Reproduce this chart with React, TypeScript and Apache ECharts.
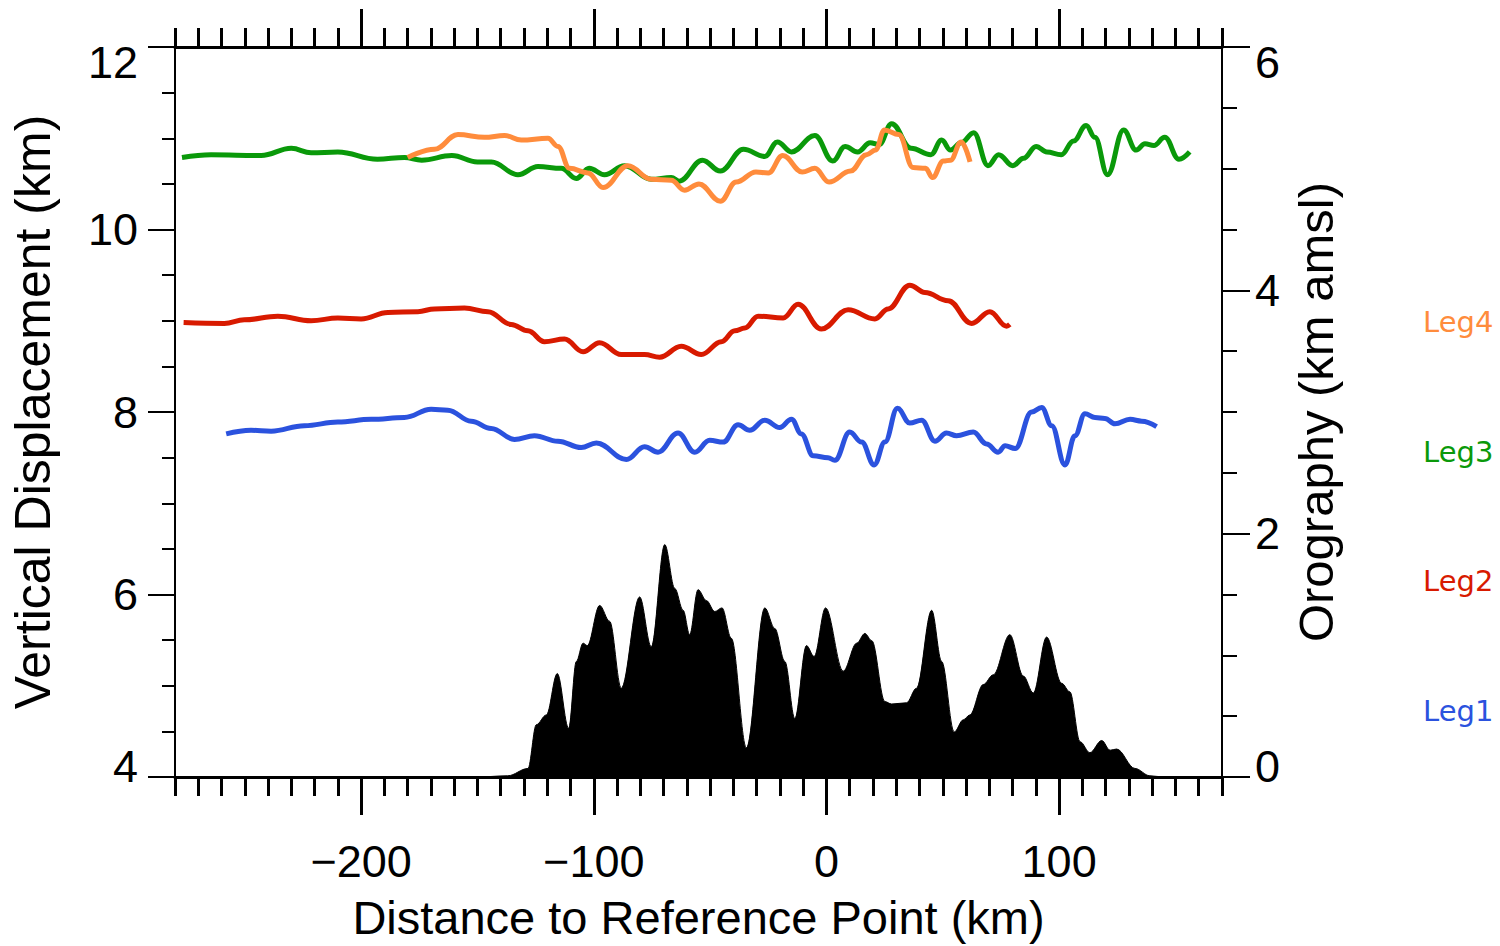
import React, { useEffect, useRef } from "react";
import * as echarts from "echarts";

const FONT = "'Liberation Sans', Arial, sans-serif";
const LEG_FONT = "'DejaVu Sans', sans-serif";

// Distance (km) vs vertical displacement (km)
const leg1: [number, number][] = [
  [-258, 7.76], [-247.3, 7.8], [-238.7, 7.79], [-224.4, 7.85], [-210, 7.89], [-195.7, 7.92],
  [-181.4, 7.94], [-169.9, 8.03], [-162.7, 8.02], [-152.7, 7.9], [-144.1, 7.82], [-134.1, 7.7],
  [-125.5, 7.74], [-115.4, 7.68], [-105.4, 7.61], [-98.9, 7.66], [-86, 7.48], [-78.2, 7.62],
  [-72.4, 7.56], [-63.8, 7.77], [-56.6, 7.56], [-50.2, 7.69], [-44.4, 7.67], [-38, 7.86],
  [-33, 7.8], [-26.5, 7.91], [-20.1, 7.83], [-15, 7.92], [-10.8, 7.76], [-5.7, 7.52],
  [0.7, 7.5], [3.6, 7.47], [10, 7.78], [15.1, 7.67], [20.5, 7.42], [25.1, 7.67], [30.5, 8.04],
  [35.8, 7.88], [40.9, 7.91], [46.6, 7.68], [51.6, 7.77], [55.9, 7.74], [63.1, 7.78],
  [68.8, 7.65], [73.8, 7.56], [76.8, 7.63], [81.1, 7.6], [88.2, 8.0], [92.5, 8.05],
  [96.8, 7.85], [102.5, 7.42], [106.8, 7.74], [111.1, 7.98], [115.4, 7.94], [119.7, 7.93],
  [124, 7.87], [130.5, 7.92], [135.5, 7.9], [141.9, 7.84],
];

const leg2: [number, number][] = [
  [-276.3, 8.98], [-258.8, 8.97], [-250.2, 9.01], [-235.8, 9.05], [-221.5, 9.0], [-210, 9.03],
  [-200, 9.02], [-188.5, 9.09], [-175.6, 9.1], [-168.5, 9.13], [-155.6, 9.14], [-145.5, 9.1],
  [-135.5, 8.96], [-128.3, 8.89], [-121.2, 8.77], [-112.6, 8.8], [-104.6, 8.66], [-97.5, 8.76],
  [-88.2, 8.63], [-78.2, 8.63], [-71.7, 8.6], [-62.4, 8.72], [-53.8, 8.63], [-45.2, 8.77],
  [-39.4, 8.89], [-35.1, 8.92], [-29.4, 9.05], [-18.6, 9.03], [-12.2, 9.18], [-2.2, 8.91],
  [9.3, 9.12], [20.8, 9.02], [26.5, 9.13], [35.8, 9.39], [42.3, 9.31], [52.3, 9.22],
  [62.4, 8.97], [70.2, 9.1], [77.4, 8.94], [78.8, 8.96],
];

const leg3: [number, number][] = [
  [-277, 10.79], [-264.5, 10.82], [-243, 10.81], [-230, 10.89], [-221.5, 10.84], [-210, 10.85],
  [-193, 10.77], [-181.4, 10.79], [-174, 10.76], [-161, 10.81], [-150, 10.74], [-144, 10.74],
  [-132.6, 10.6], [-124, 10.69], [-114, 10.67], [-107.5, 10.56], [-102, 10.67], [-95.4, 10.6],
  [-86.8, 10.7], [-75.3, 10.55], [-66.7, 10.57], [-63.3, 10.53], [-53.3, 10.76], [-45.6, 10.64],
  [-35.7, 10.88], [-26.5, 10.8], [-21.1, 10.96], [-15, 10.85], [-5, 11.03], [2.7, 10.75],
  [8, 10.91], [13.4, 10.85], [18.8, 10.95], [22.6, 10.93], [28, 11.16], [36.4, 10.89],
  [44.9, 10.82], [49.5, 10.98], [53.3, 10.87], [57.9, 10.95], [63.3, 11.06], [69.4, 10.7],
  [74, 10.82], [80.1, 10.7], [84.7, 10.78], [90.1, 10.91], [94.7, 10.85], [100.9, 10.82],
  [106.2, 10.97], [111.6, 11.14], [115.4, 11.01], [120.8, 10.6], [127.7, 11.09], [133.1, 10.87],
  [136.9, 10.94], [140.7, 10.92], [145.4, 11.01], [151.5, 10.77], [156.1, 10.85],
];

const leg4: [number, number][] = [
  [-180, 10.79], [-168.5, 10.88], [-158.4, 11.04], [-147, 11.01], [-138.4, 11.03], [-131.2, 10.98],
  [-119.7, 11.0], [-115.4, 10.91], [-110.4, 10.67], [-102.5, 10.62], [-96, 10.46], [-85.3, 10.7],
  [-75.3, 10.55], [-66.7, 10.54], [-61, 10.43], [-54.8, 10.5], [-45.6, 10.31], [-38.8, 10.52],
  [-30.3, 10.63], [-25, 10.62], [-18.8, 10.81], [-10.4, 10.63], [-5, 10.67], [1.1, 10.52],
  [10.3, 10.64], [17.2, 10.82], [21.1, 10.87], [24.9, 11.09], [31.1, 11.04], [37.2, 10.68],
  [42.6, 10.67], [45.6, 10.57], [50.2, 10.75], [53.3, 10.76], [57.9, 10.96], [61.7, 10.74],
];

// Distance (km) vs orography height (km amsl)
const orography: [number, number][] = [
  [-280, 0], [-150, 0], [-137, 0.01], [-128.3, 0.07], [-124.7, 0.43], [-120.4, 0.51],
  [-115.7, 0.85], [-110.8, 0.4], [-107.5, 0.95], [-104.6, 1.1], [-102.8, 1.08], [-97.5, 1.41],
  [-93.2, 1.28], [-88.2, 0.73], [-80.3, 1.48], [-75.3, 1.07], [-69.5, 1.91], [-65.2, 1.55],
  [-61.6, 1.37], [-58.8, 1.17], [-55.2, 1.54], [-51.6, 1.45], [-48, 1.36], [-44.9, 1.39],
  [-40.9, 1.14], [-34.4, 0.24], [-26.5, 1.39], [-22.2, 1.22], [-17.9, 0.95], [-13.6, 0.48],
  [-8.6, 1.08], [-5.3, 0.99], [-0.4, 1.39], [7.2, 0.87], [13, 1.1], [16.5, 1.18], [19.5, 1.12],
  [25.1, 0.62], [28, 0.6], [34.4, 0.61], [38.7, 0.73], [45.2, 1.37], [49.5, 0.95], [54.9, 0.37],
  [58.8, 0.47], [61.6, 0.51], [67.4, 0.76], [71.7, 0.84], [78.8, 1.17], [84.6, 0.83],
  [88.9, 0.69], [94.6, 1.15], [101.1, 0.77], [104.6, 0.7], [109, 0.29], [113.2, 0.2],
  [118.3, 0.3], [121.9, 0.22], [124.7, 0.23], [132.6, 0.07], [139, 0.01], [145, 0], [170, 0],
];

const xMinorTicks = Array.from({ length: 46 }, (_, i) => -280 + i * 10);
const xMajorTicks = [-200, -100, 0, 100];
const yLeftMinorTicks = Array.from({ length: 17 }, (_, i) => 4 + i * 0.5);
const yLeftMajorTicks = [4, 6, 8, 10, 12];
const yRightMinorTicks = Array.from({ length: 13 }, (_, i) => i * 0.5);
const yRightMajorTicks = [0, 2, 4, 6];

const legendNames = ["Leg4", "Leg3", "Leg2", "Leg1"];
const colors: Record<string, string> = {
  Leg1: "#2b52de",
  Leg2: "#d81a00",
  Leg3: "#0a990a",
  Leg4: "#ff8c3c",
};

const X_MIN = -280;
const X_MAX = 170;

function xAxisDef(position: "top" | "bottom", major: boolean, withLabels: boolean): any {
  return {
    type: "value",
    position,
    min: X_MIN,
    max: X_MAX,
    axisLine: { show: !major, onZero: false, lineStyle: { color: "#000", width: 3 } },
    axisTick: {
      show: true,
      inside: false,
      length: major ? 38 : 19,
      lineStyle: { color: "#000", width: 3 },
      customValues: major ? xMajorTicks : xMinorTicks,
    },
    axisLabel: withLabels
      ? {
          show: true,
          customValues: xMajorTicks,
          formatter: (v: number) => (v < 0 ? "\u2212" + Math.abs(v) : String(v)),
          fontSize: 45,
          fontFamily: FONT,
          color: "#000",
          margin: 62,
        }
      : { show: false },
    splitLine: { show: false },
    ...(withLabels
      ? {
          name: "Distance to Reference Point (km)",
          nameLocation: "middle",
          nameGap: 117,
          nameTextStyle: { fontSize: 47, fontFamily: FONT, color: "#000" },
        }
      : {}),
  };
}

function endLabel(v: number, maxV: number, minV: number) {
  if (v === maxV) return "{d|" + v + "}";
  if (v === minV) return "{u|" + v + "}";
  return "{n|" + v + "}";
}

const richLabels = {
  d: { padding: [30, 0, 0, 0], fontSize: 45, fontFamily: FONT, color: "#000" },
  u: { padding: [0, 0, 22, 0], fontSize: 45, fontFamily: FONT, color: "#000" },
  n: { fontSize: 45, fontFamily: FONT, color: "#000" },
};

function yAxisDef(
  position: "left" | "right",
  min: number,
  max: number,
  ticks: number[],
  tickLen: number,
  showLine: boolean
): any {
  return {
    type: "value",
    position,
    min,
    max,
    axisLine: { show: showLine, onZero: false, lineStyle: { color: "#000", width: 2 } },
    axisTick: { show: true, inside: false, length: tickLen, lineStyle: { color: "#000", width: 2 }, customValues: ticks },
    axisLabel: { show: false },
    splitLine: { show: false },
  };
}

const option: any = {
  animation: false,
  backgroundColor: "#fff",
  grid: { left: 175, right: 278, top: 47, bottom: 167, containLabel: false },
  legend: {
    orient: "vertical",
    left: 1413,
    top: 302,
    icon: "none",
    itemWidth: 0,
    itemHeight: 30,
    itemGap: 100,
    selectedMode: false,
    textStyle: { fontSize: 29, fontFamily: LEG_FONT },
    data: legendNames.map((n) => ({ name: n, textStyle: { color: colors[n] } })),
  },
  xAxis: [
    xAxisDef("bottom", false, true),
    xAxisDef("bottom", true, false),
    xAxisDef("top", false, false),
    xAxisDef("top", true, false),
  ],
  yAxis: [
    {
      ...yAxisDef("left", 4, 12, yLeftMinorTicks, 13, true),
      axisLabel: {
        show: true,
        customValues: yLeftMajorTicks,
        margin: 37,
        formatter: (v: number) => endLabel(v, 12, 4),
        rich: richLabels,
      },
      name: "Vertical Displacement (km)",
      nameLocation: "middle",
      nameRotate: 90,
      nameGap: 117,
      nameTextStyle: { fontSize: 50, fontFamily: FONT, color: "#000" },
    },
    {
      ...yAxisDef("right", 0, 6, yRightMinorTicks, 15, true),
      axisLabel: {
        show: true,
        customValues: yRightMajorTicks,
        margin: 33,
        formatter: (v: number) => endLabel(v, 6, 0),
        rich: richLabels,
      },
      name: "Orography (km amsl)",
      nameLocation: "middle",
      nameRotate: 90,
      nameGap: 69,
      nameTextStyle: { fontSize: 49, fontFamily: FONT, color: "#000" },
    },
    yAxisDef("left", 4, 12, yLeftMajorTicks, 27, false),
    yAxisDef("right", 0, 6, yRightMajorTicks, 28, false),
  ],
  series: [
    {
      name: "Orography",
      type: "line",
      xAxisIndex: 0,
      yAxisIndex: 1,
      data: orography,
      showSymbol: false,
      symbol: "none",
      smooth: 0.35,
      smoothMonotone: "x",
      lineStyle: { color: "#000", width: 1 },
      areaStyle: { color: "#000", opacity: 1 },
      z: 1,
    },
    ...[
      { name: "Leg1", data: leg1 },
      { name: "Leg2", data: leg2 },
      { name: "Leg3", data: leg3 },
      { name: "Leg4", data: leg4 },
    ].map((s) => ({
      name: s.name,
      type: "line",
      xAxisIndex: 0,
      yAxisIndex: 0,
      data: s.data,
      symbol: "none",
      showSymbol: false,
      smooth: 0.4,
      smoothMonotone: "x",
      lineStyle: { color: colors[s.name], width: 5 },
      itemStyle: { color: colors[s.name] },
      z: 3,
    })),
  ],
};

export default function App() {
  const ref = useRef<HTMLDivElement>(null);
  useEffect(() => {
    document.body.style.margin = "0";
    const chart = echarts.init(ref.current!, null, { renderer: "svg" });
    chart.setOption(option);
    return () => chart.dispose();
  }, []);
  return <div ref={ref} style={{ width: 1500, height: 946, background: "#fff" }} />;
}
